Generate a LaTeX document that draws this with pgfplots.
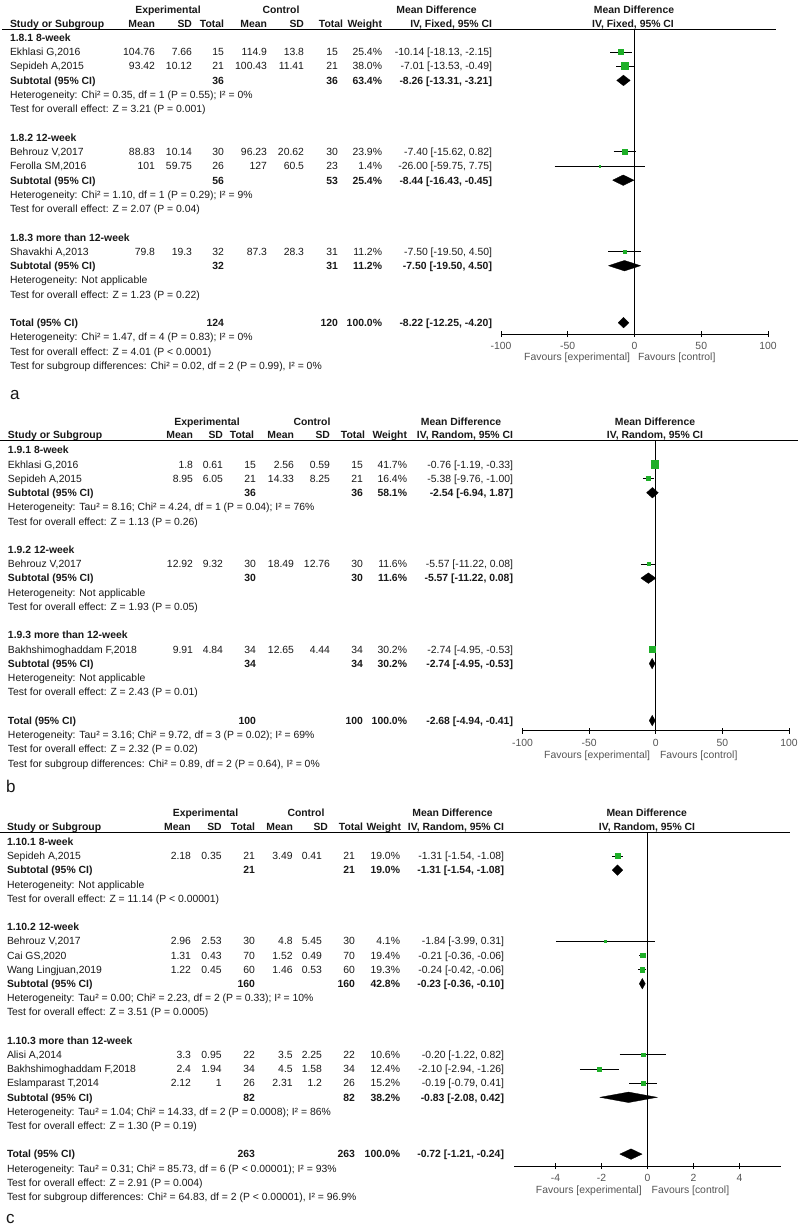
\documentclass[border=0pt]{standalone}
\usepackage{fontspec}
\setmainfont{Liberation Sans}
\usepackage{pgfplots}
\pgfplotsset{compat=1.18}
\definecolor{fg}{RGB}{30,175,40}
\definecolor{tg}{RGB}{85,85,85}
\definecolor{tx}{RGB}{25,25,25}
\pgfplotsset{
  forest/.style={scale only axis, anchor=south west, clip=false,
    axis x line*=bottom, axis y line=none, ytick=\empty,
    axis line style={black, line width=0.8pt, -},
    xtick align=center, major tick length=6pt,
    tick style={black, line width=0.8pt},
    xticklabel style={text=tg, inner sep=0pt, anchor=north, yshift=-5pt},
  },
  ci/.style={black, line width=0.8pt, mark=none},
  sq/.style={only marks, mark=square*, color=fg, mark options={fill=fg, draw=fg}},
  dm/.style={black, fill=black, mark=none, line width=0.3pt},
  zl/.style={black, line width=0.8pt, mark=none},
}
\newcommand\setrow[1]{\pgfmathsetmacro\yy{\ybase+\ystep*#1+3.8}}
\newcommand\Lt[1]{\node[anchor=base west] at (\xl,\yy) {#1};}
\newcommand\Lb[1]{\node[anchor=base west,font=\bfseries] at (\xl,\yy) {#1};}
\newcommand\Rt[2]{\node[anchor=base east] at (#1,\yy) {#2};}
\newcommand\Rb[2]{\node[anchor=base east,font=\bfseries] at (#1,\yy) {#2};}
\newcommand\Cb[2]{\node[anchor=base,font=\bfseries] at (#1,\yy) {#2};}
\newcommand\Study[9]{\Lt{#1}\Rt{\cM}{#2}\Rt{\cS}{#3}\Rt{\cN}{#4}\Rt{\dM}{#5}\Rt{\dS}{#6}\Rt{\dN}{#7}\Rt{\cW}{#8}\Rt{\cMD}{#9}}
\newcommand\Sub[5]{\Lb{#1}\Rb{\cN}{#2}\Rb{\dN}{#3}\Rb{\cW}{#4}\Rb{\cMD}{#5}}
\begin{document}
\fontsize{10.4pt}{12pt}\selectfont
\begin{tikzpicture}
\path[use as bounding box, fill=white] (0,0) rectangle (800pt,-1228pt);
\begin{scope}[x=1pt,y=-1pt, every node/.style={inner sep=0pt, outer sep=0pt, text=tx}]
% ================= PANEL A =================
\def\ybase{37.7}\def\ystep{14.25}\def\xl{10}
\def\cM{155}\def\cS{192}\def\cN{224}\def\dM{267}\def\dS{304}\def\dN{338}\def\cW{382}\def\cMD{492}
\def\yy{13.1}
\Cb{168}{Experimental}\Cb{281}{Control}\Cb{436.5}{Mean Difference}\Cb{634}{Mean Difference}
\def\yy{27.1}
\Lb{Study or Subgroup}\Rb{155}{Mean}\Rb{192}{SD}\Rb{224}{Total}\Rb{267}{Mean}\Rb{304}{SD}\Rb{343}{Total}\Rb{382}{Weight}\Rb{492}{IV, Fixed, 95\% CI}\Cb{633}{IV, Fixed, 95\% CI}
\draw[line width=1pt] (2,30) -- (776,30);
\setrow{0}\Lb{1.8.1 8-week}
\setrow{1}\Study{Ekhlasi G,2016}{104.76}{7.66}{15}{114.9}{13.8}{15}{25.4\%}{-10.14 [-18.13, -2.15]}
\setrow{2}\Study{Sepideh A,2015}{93.42}{10.12}{21}{100.43}{11.41}{21}{38.0\%}{-7.01 [-13.53, -0.49]}
\setrow{3}\Sub{Subtotal (95\% CI)}{36}{36}{63.4\%}{-8.26 [-13.31, -3.21]}
\setrow{4}\Lt{Heterogeneity: Chi² = 0.35, df = 1 (P = 0.55); I² = 0\%}
\setrow{5}\Lt{Test for overall effect: Z = 3.21 (P = 0.001)}
\setrow{7}\Lb{1.8.2 12-week}
\setrow{8}\Study{Behrouz V,2017}{88.83}{10.14}{30}{96.23}{20.62}{30}{23.9\%}{-7.40 [-15.62, 0.82]}
\setrow{9}\Study{Ferolla SM,2016}{101}{59.75}{26}{127}{60.5}{23}{1.4\%}{-26.00 [-59.75, 7.75]}
\setrow{10}\Sub{Subtotal (95\% CI)}{56}{53}{25.4\%}{-8.44 [-16.43, -0.45]}
\setrow{11}\Lt{Heterogeneity: Chi² = 1.10, df = 1 (P = 0.29); I² = 9\%}
\setrow{12}\Lt{Test for overall effect: Z = 2.07 (P = 0.04)}
\setrow{14}\Lb{1.8.3 more than 12-week}
\setrow{15}\Study{Shavakhi A,2013}{79.8}{19.3}{32}{87.3}{28.3}{31}{11.2\%}{-7.50 [-19.50, 4.50]}
\setrow{16}\Sub{Subtotal (95\% CI)}{32}{31}{11.2\%}{-7.50 [-19.50, 4.50]}
\setrow{17}\Lt{Heterogeneity: Not applicable}
\setrow{18}\Lt{Test for overall effect: Z = 1.23 (P = 0.22)}
\setrow{20}\Sub{Total (95\% CI)}{124}{120}{100.0\%}{-8.22 [-12.25, -4.20]}
\setrow{21}\Lt{Heterogeneity: Chi² = 1.47, df = 4 (P = 0.83); I² = 0\%}
\setrow{22}\Lt{Test for overall effect: Z = 4.01 (P < 0.0001)}
\setrow{23}\Lt{Test for subgroup differences: Chi² = 0.02, df = 2 (P = 0.99), I² = 0\%}
\node[anchor=base east, text=tg] at (630,360.8) {Favours [experimental]};
\node[anchor=base west, text=tg] at (638,360.8) {Favours [control]};
\node[anchor=base west, font=\fontsize{17pt}{19pt}\selectfont] at (10,399.3) {a};
% ================= PANEL B =================
\def\ybase{450}\def\ystep{14.24}\def\xl{8}
\def\cM{193}\def\cS{223}\def\cN{256}\def\dM{294}\def\dS{330}\def\dN{363}\def\cW{407}\def\cMD{513}
\def\yy{425.5}
\Cb{207}{Experimental}\Cb{312}{Control}\Cb{461}{Mean Difference}\Cb{655}{Mean Difference}
\def\yy{438.8}
\Lb{Study or Subgroup}\Rb{193}{Mean}\Rb{223}{SD}\Rb{254}{Total}\Rb{294}{Mean}\Rb{330}{SD}\Rb{365}{Total}\Rb{407}{Weight}\Rb{513}{IV, Random, 95\% CI}\Cb{655}{IV, Random, 95\% CI}
\draw[line width=1pt] (0,440.7) -- (798,440.7);
\setrow{0}\Lb{1.9.1 8-week}
\setrow{1}\Study{Ekhlasi G,2016}{1.8}{0.61}{15}{2.56}{0.59}{15}{41.7\%}{-0.76 [-1.19, -0.33]}
\setrow{2}\Study{Sepideh A,2015}{8.95}{6.05}{21}{14.33}{8.25}{21}{16.4\%}{-5.38 [-9.76, -1.00]}
\setrow{3}\Sub{Subtotal (95\% CI)}{36}{36}{58.1\%}{-2.54 [-6.94, 1.87]}
\setrow{4}\Lt{Heterogeneity: Tau² = 8.16; Chi² = 4.24, df = 1 (P = 0.04); I² = 76\%}
\setrow{5}\Lt{Test for overall effect: Z = 1.13 (P = 0.26)}
\setrow{7}\Lb{1.9.2 12-week}
\setrow{8}\Study{Behrouz V,2017}{12.92}{9.32}{30}{18.49}{12.76}{30}{11.6\%}{-5.57 [-11.22, 0.08]}
\setrow{9}\Sub{Subtotal (95\% CI)}{30}{30}{11.6\%}{-5.57 [-11.22, 0.08]}
\setrow{10}\Lt{Heterogeneity: Not applicable}
\setrow{11}\Lt{Test for overall effect: Z = 1.93 (P = 0.05)}
\setrow{13}\Lb{1.9.3 more than 12-week}
\setrow{14}\Study{Bakhshimoghaddam F,2018}{9.91}{4.84}{34}{12.65}{4.44}{34}{30.2\%}{-2.74 [-4.95, -0.53]}
\setrow{15}\Sub{Subtotal (95\% CI)}{34}{34}{30.2\%}{-2.74 [-4.95, -0.53]}
\setrow{16}\Lt{Heterogeneity: Not applicable}
\setrow{17}\Lt{Test for overall effect: Z = 2.43 (P = 0.01)}
\setrow{19}\Sub{Total (95\% CI)}{100}{100}{100.0\%}{-2.68 [-4.94, -0.41]}
\setrow{20}\Lt{Heterogeneity: Tau² = 3.16; Chi² = 9.72, df = 3 (P = 0.02); I² = 69\%}
\setrow{21}\Lt{Test for overall effect: Z = 2.32 (P = 0.02)}
\setrow{22}\Lt{Test for subgroup differences: Chi² = 0.89, df = 2 (P = 0.64), I² = 0\%}
\node[anchor=base east, text=tg] at (650,758.8) {Favours [experimental]};
\node[anchor=base west, text=tg] at (660,758.8) {Favours [control]};
\node[anchor=base west, font=\fontsize{17pt}{19pt}\selectfont] at (6,792.7) {b};
% ================= PANEL C =================
\def\ybase{841.7}\def\ystep{14.2}\def\xl{7}
\def\cM{191}\def\cS{221.7}\def\cN{255}\def\dM{292.7}\def\dS{322}\def\dN{355}\def\cW{400}\def\cMD{504}
\def\yy{816.5}
\Cb{205.5}{Experimental}\Cb{306}{Control}\Cb{452.5}{Mean Difference}\Cb{646.7}{Mean Difference}
\def\yy{830.5}
\Lb{Study or Subgroup}\Rb{190.7}{Mean}\Rb{221.7}{SD}\Rb{255}{Total}\Rb{293}{Mean}\Rb{328}{SD}\Rb{363}{Total}\Rb{401}{Weight}\Rb{504}{IV, Random, 95\% CI}\Cb{647}{IV, Random, 95\% CI}
\draw[line width=1pt] (0,832.7) -- (790,832.7);
\setrow{0}\Lb{1.10.1 8-week}
\setrow{1}\Study{Sepideh A,2015}{2.18}{0.35}{21}{3.49}{0.41}{21}{19.0\%}{-1.31 [-1.54, -1.08]}
\setrow{2}\Sub{Subtotal (95\% CI)}{21}{21}{19.0\%}{-1.31 [-1.54, -1.08]}
\setrow{3}\Lt{Heterogeneity: Not applicable}
\setrow{4}\Lt{Test for overall effect: Z = 11.14 (P < 0.00001)}
\setrow{6}\Lb{1.10.2 12-week}
\setrow{7}\Study{Behrouz V,2017}{2.96}{2.53}{30}{4.8}{5.45}{30}{4.1\%}{-1.84 [-3.99, 0.31]}
\setrow{8}\Study{Cai GS,2020}{1.31}{0.43}{70}{1.52}{0.49}{70}{19.4\%}{-0.21 [-0.36, -0.06]}
\setrow{9}\Study{Wang Lingjuan,2019}{1.22}{0.45}{60}{1.46}{0.53}{60}{19.3\%}{-0.24 [-0.42, -0.06]}
\setrow{10}\Sub{Subtotal (95\% CI)}{160}{160}{42.8\%}{-0.23 [-0.36, -0.10]}
\setrow{11}\Lt{Heterogeneity: Tau² = 0.00; Chi² = 2.23, df = 2 (P = 0.33); I² = 10\%}
\setrow{12}\Lt{Test for overall effect: Z = 3.51 (P = 0.0005)}
\setrow{14}\Lb{1.10.3 more than 12-week}
\setrow{15}\Study{Alisi A,2014}{3.3}{0.95}{22}{3.5}{2.25}{22}{10.6\%}{-0.20 [-1.22, 0.82]}
\setrow{16}\Study{Bakhshimoghaddam F,2018}{2.4}{1.94}{34}{4.5}{1.58}{34}{12.4\%}{-2.10 [-2.94, -1.26]}
\setrow{17}\Study{Eslamparast T,2014}{2.12}{1}{26}{2.31}{1.2}{26}{15.2\%}{-0.19 [-0.79, 0.41]}
\setrow{18}\Sub{Subtotal (95\% CI)}{82}{82}{38.2\%}{-0.83 [-2.08, 0.42]}
\setrow{19}\Lt{Heterogeneity: Tau² = 1.04; Chi² = 14.33, df = 2 (P = 0.0008); I² = 86\%}
\setrow{20}\Lt{Test for overall effect: Z = 1.30 (P = 0.19)}
\setrow{22}\Sub{Total (95\% CI)}{263}{263}{100.0\%}{-0.72 [-1.21, -0.24]}
\setrow{23}\Lt{Heterogeneity: Tau² = 0.31; Chi² = 85.73, df = 6 (P < 0.00001); I² = 93\%}
\setrow{24}\Lt{Test for overall effect: Z = 2.91 (P = 0.004)}
\setrow{25}\Lt{Test for subgroup differences: Chi² = 64.83, df = 2 (P < 0.00001), I² = 96.9\%}
\node[anchor=base east, text=tg] at (641.7,1193.1) {Favours [experimental]};
\node[anchor=base west, text=tg] at (651.7,1193.1) {Favours [control]};
\node[anchor=base west, font=\fontsize{17pt}{19pt}\selectfont] at (6,1223.3) {c};
\end{scope}
% ================= FOREST A =================
\begin{axis}[forest, at={(501pt,-334pt)}, width=267pt, height=304pt,
  xmin=-100, xmax=100, ymin=-20.793, ymax=0.540,
  xtick={-100,-50,0,50,100}, xticklabels={-100,-50,0,50,100}]
\addplot[zl] coordinates {(0,0.540) (0,-20.793)};
\addplot[ci] coordinates {(-18.13,-1) (-2.15,-1)};
\addplot[sq, mark size=2.7pt] coordinates {(-10.14,-1)};
\addplot[ci] coordinates {(-13.53,-2) (-0.49,-2)};
\addplot[sq, mark size=3.5pt] coordinates {(-7.01,-2)};
\addplot[dm] coordinates {(-13.31,-3) (-8.26,-2.63) (-3.21,-3) (-8.26,-3.37) (-13.31,-3)};
\addplot[ci] coordinates {(-15.62,-8) (0.82,-8)};
\addplot[sq, mark size=2.5pt] coordinates {(-7.40,-8)};
\addplot[ci] coordinates {(-59.75,-9) (7.75,-9)};
\addplot[sq, mark size=0.8pt] coordinates {(-26.00,-9)};
\addplot[dm] coordinates {(-16.43,-10) (-8.44,-9.63) (-0.45,-10) (-8.44,-10.37) (-16.43,-10)};
\addplot[ci] coordinates {(-19.50,-15) (4.50,-15)};
\addplot[sq, mark size=1.5pt] coordinates {(-7.50,-15)};
\addplot[dm] coordinates {(-19.50,-16) (-7.50,-15.63) (4.50,-16) (-7.50,-16.37) (-19.50,-16)};
\addplot[dm] coordinates {(-12.25,-20) (-8.22,-19.63) (-4.20,-20) (-8.22,-20.37) (-12.25,-20)};
\end{axis}
% ================= FOREST B =================
\begin{axis}[forest, at={(522.6pt,-730.7pt)}, width=266.4pt, height=290pt,
  xmin=-100, xmax=100, ymin=-19.712, ymax=0.653,
  xtick={-100,-50,0,50,100}, xticklabels={-100,-50,0,50,100}]
\addplot[zl] coordinates {(0,0.653) (0,-19.712)};
\addplot[ci] coordinates {(-1.19,-1) (-0.33,-1)};
\addplot[sq, mark size=3.8pt] coordinates {(-0.76,-1)};
\addplot[ci] coordinates {(-9.76,-2) (-1.00,-2)};
\addplot[sq, mark size=2.0pt] coordinates {(-5.38,-2)};
\addplot[dm] coordinates {(-6.94,-3) (-2.54,-2.63) (1.87,-3) (-2.54,-3.37) (-6.94,-3)};
\addplot[ci] coordinates {(-11.22,-8) (0.08,-8)};
\addplot[sq, mark size=1.6pt] coordinates {(-5.57,-8)};
\addplot[dm] coordinates {(-11.22,-9) (-5.57,-8.63) (0.08,-9) (-5.57,-9.37) (-11.22,-9)};
\addplot[ci] coordinates {(-4.95,-14) (-0.53,-14)};
\addplot[sq, mark size=3.3pt] coordinates {(-2.74,-14)};
\addplot[dm] coordinates {(-4.95,-15) (-2.74,-14.63) (-0.53,-15) (-2.74,-15.37) (-4.95,-15)};
\addplot[dm] coordinates {(-4.94,-19) (-2.68,-18.63) (-0.41,-19) (-2.68,-19.37) (-4.94,-19)};
\end{axis}
% ================= FOREST C =================
\begin{axis}[forest, at={(514.2pt,-1166pt)}, width=266.8pt, height=333.3pt,
  xmin=-5.8, xmax=5.8, ymin=-22.838, ymax=0.634,
  xtick={-4,-2,0,2,4}, xticklabels={-4,-2,0,2,4}]
\addplot[zl] coordinates {(0,0.634) (0,-22.838)};
\addplot[ci] coordinates {(-1.54,-1) (-1.08,-1)};
\addplot[sq, mark size=2.3pt] coordinates {(-1.31,-1)};
\addplot[dm] coordinates {(-1.54,-2) (-1.31,-1.63) (-1.08,-2) (-1.31,-2.37) (-1.54,-2)};
\addplot[ci] coordinates {(-3.99,-7) (0.31,-7)};
\addplot[sq, mark size=1.0pt] coordinates {(-1.84,-7)};
\addplot[ci] coordinates {(-0.36,-8) (-0.06,-8)};
\addplot[sq, mark size=2.3pt] coordinates {(-0.21,-8)};
\addplot[ci] coordinates {(-0.42,-9) (-0.06,-9)};
\addplot[sq, mark size=2.3pt] coordinates {(-0.24,-9)};
\addplot[dm] coordinates {(-0.36,-10) (-0.23,-9.63) (-0.10,-10) (-0.23,-10.37) (-0.36,-10)};
\addplot[ci] coordinates {(-1.22,-15) (0.82,-15)};
\addplot[sq, mark size=1.7pt] coordinates {(-0.20,-15)};
\addplot[ci] coordinates {(-2.94,-16) (-1.26,-16)};
\addplot[sq, mark size=1.8pt] coordinates {(-2.10,-16)};
\addplot[ci] coordinates {(-0.79,-17) (0.41,-17)};
\addplot[sq, mark size=2.0pt] coordinates {(-0.19,-17)};
\addplot[dm] coordinates {(-2.08,-18) (-0.83,-17.63) (0.42,-18) (-0.83,-18.37) (-2.08,-18)};
\addplot[dm] coordinates {(-1.21,-22) (-0.72,-21.63) (-0.24,-22) (-0.72,-22.37) (-1.21,-22)};
\end{axis}
\end{tikzpicture}
\end{document}
